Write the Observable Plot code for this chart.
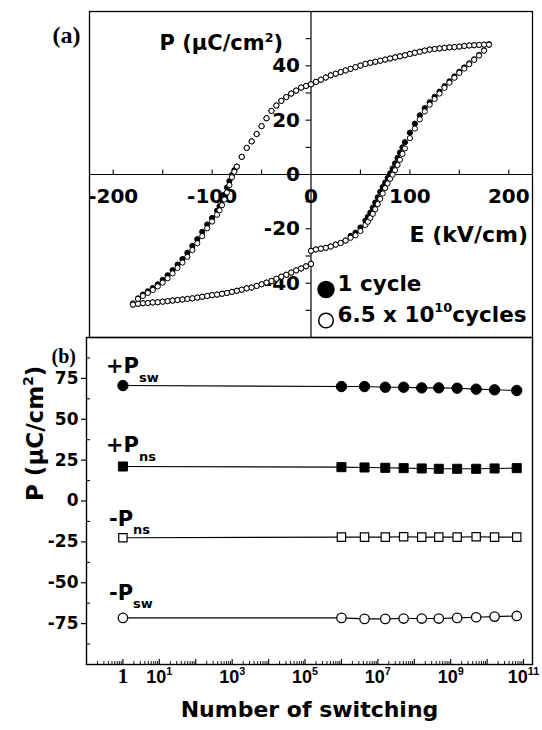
<!DOCTYPE html>
<html><head><meta charset="utf-8">
<script src="https://cdn.jsdelivr.net/npm/d3@7"></script>
<script src="https://cdn.jsdelivr.net/npm/@observablehq/plot@0.6"></script>
<style>
html,body{margin:0;padding:0;background:#fff;}
#wrap{position:relative;width:542px;height:730px;overflow:hidden;background:#fff;}
#wrap svg{position:absolute;left:0;}
</style></head><body><div id="wrap"></div>
<script>
// ---------- Panel (a): hysteresis loops ----------
const E_down = [180,175,170,165,160,155,150,145,140,135,130,125,120,115,110,105,100,95,90,85,80,75,70,65,60,55,50,45,40,35,30,25,20,15,10,5,0,-5,-10,-15,-20,-25,-30,-35,-40,-45,-50,-55,-60,-65,-70,-75,-77.5,-80,-82.5,-85,-87.5,-90,-92.5,-95,-100,-105,-110,-115,-120,-125,-130,-135,-140,-145,-150,-155,-160,-165,-170,-175,-180];
const P_down_fatigued = [47.9,47.8,47.7,47.6,47.5,47.3,47.1,46.9,46.8,46.6,46.4,46.2,46.0,45.6,45.2,44.8,44.4,43.9,43.5,43.1,42.7,42.3,41.9,41.5,41.1,40.7,40.1,39.5,38.9,38.3,37.7,37.1,36.5,35.7,34.9,34.1,33.2,
  32.6,32.0,30.9,29.8,28.5,27.1,25.4,23.4,20.7,17.8,14.9,12.2,9.8,6.5,2.9,
  1.0,-1.0,-3.9,-6.6,-9.2,-11.3,-13.2,-14.8,
  -17.3,-19.8,-22.7,-25.3,-27.8,-30.3,-32.4,-34.4,-36.4,-38.2,-39.8,-41.2,-42.5,-43.6,-44.7,-45.8,-47.5];
const P_down_1cycle = [47.9,47.8,47.7,47.6,47.5,47.3,47.1,46.9,46.8,46.6,46.4,46.2,46.0,45.6,45.2,44.8,44.4,43.9,43.5,43.1,42.7,42.3,41.9,41.5,41.1,40.7,40.1,39.5,38.9,38.3,37.7,37.1,36.5,35.7,34.9,34.1,33.2,
  32.6,32.0,30.9,29.8,28.5,27.1,25.4,23.4,20.7,17.8,14.9,12.2,9.8,6.5,2.9,
  1.6,-0.2,-2.4,-4.8,-7.4,-9.6,-11.6,-13.3,
  -16.0,-18.4,-21.1,-23.8,-26.3,-28.8,-31.1,-33.2,-35.2,-37.1,-38.8,-40.4,-41.8,-43.0,-44.2,-45.6,-47.5];
const E_up1 = [-180,-175,-170,-165,-160,-155,-150,-145,-140,-135,-130,-125,-120,-115,-110,-105,-100,-95,-90,-85,-80,-75,-70,-65,-60,-55,-50,-45,-40,-35,-30,-25,-20,-15,-10,-5,0];
const P_up1_fatigued = [-47.9,-47.6,-47.4,-47.3,-47.1,-47.0,-46.8,-46.6,-46.4,-46.2,-46.0,-45.8,-45.6,-45.3,-45.0,-44.7,-44.4,-44.2,-43.9,-43.6,-43.2,-42.8,-42.4,-41.9,-41.6,-41.0,-40.4,-39.8,-39.2,-38.4,-37.6,-36.9,-36.1,-35.3,-34.6,-33.8,-32.9];
const P_up1_1cycle = [-47.9,-47.6,-47.4,-47.3,-47.1,-47.0,-46.8,-46.6,-46.4,-46.2,-46.0,-45.8,-45.6,-45.3,-45.0,-44.7,-44.4,-44.2,-43.9,-43.6,-43.2,-42.8,-42.4,-41.9,-41.6,-41.0,-40.4,-39.8,-39.2,-38.4,-37.6,-36.9,-36.1,-35.3,-34.6,-33.8,-32.9];
const E_up2 = [0,5,10,15,20,25,30,35,40,45,50,55,57.5,60,62.5,65,67.5,70,72.5,75,77.5,80,82.5,85,87.5,90,92.5,95,100,105,110,115,120,125,130,135,140,145,150,155,160,165,170,175,180];
const P_up2_fatigued = [-28.1,-27.6,-27.3,-27.0,-26.5,-25.8,-25.2,-24.3,-23.3,-22.4,-20.8,-18.6,
  -17.4,-16.0,-14.5,-12.8,-10.9,-9.0,-7.0,-5.0,-3.3,-1.6,-0.1,1.6,3.5,5.4,7.6,9.6,
  13.4,16.9,20.3,23.2,25.7,27.8,29.8,31.9,33.8,35.6,37.4,39.0,40.6,42.2,43.8,45.6,47.8];
const P_up2_1cycle = [-28.1,-27.6,-27.3,-27.0,-26.5,-25.8,-25.2,-24.3,-22.6,-21.4,-19.5,-17.0,
  -15.6,-14.0,-12.2,-10.3,-8.4,-6.4,-4.6,-3.0,-1.3,0.4,2.2,4.1,6.1,8.1,10.0,11.9,
  15.4,18.7,21.8,24.4,26.6,28.6,30.5,32.5,34.3,36.1,37.8,39.4,40.9,42.4,44.0,45.7,47.8];

const eTickLabels = [-200, -100, 0, 100, 200];
const eTicks = [-200, -150, -100, -50, 50, 100, 150, 200];
const pTickLabels = [40, 20, 0, -20, -40];
const pTicks = [50, 40, 30, 20, 10, -10, -20, -30, -40, -50];
const legendLabels = ["1 cycle", "6.5 x 10^{10}cycles"];

// ---------- Panel (b): fatigue ----------
const cycles   = [1, 1e6, 4.3e6, 1.6e7, 5.1e7, 1.6e8, 4.7e8, 1.5e9, 5e9, 1.6e10, 6.5e10];
const PswPlus  = [70.6, 70.0, 70.0, 69.6, 69.6, 69.2, 69.2, 69.0, 68.4, 68.0, 67.6];
const PnsPlus  = [21.1, 20.7, 20.5, 20.3, 20.1, 19.9, 19.7, 19.7, 19.7, 19.9, 20.1];
const PnsMinus = [-22.5, -22.1, -22.1, -22.1, -21.9, -22.1, -22.1, -22.1, -21.9, -22.1, -22.1];
const PswMinus = [-71.5, -71.5, -72.1, -72.1, -71.9, -71.9, -71.9, -71.5, -71.1, -70.7, -70.3];
const seriesNames = ["+P_{sw}", "+P_{ns}", "-P_{ns}", "-P_{sw}"];
const nTickValues = [1, 10, 1e3, 1e5, 1e7, 1e9, 1e11];
const nTickLabels = ["1", "10^{1}", "10^{3}", "10^{5}", "10^{7}", "10^{9}", "10^{11}"];
const pbTickLabels = [75, 50, 25, 0, -25, -50, -75];
const pbMinorTicks = [87.5, 62.5, 37.5, 12.5, -12.5, -37.5, -62.5, -87.5];

const SANS = "DejaVu Sans";
const ARIAL = "Liberation Sans, Arial";
const SERIF = "Liberation Serif, Times New Roman";
const B = "bold";

const toRows = (Es, Ps) => Es.map((E, i) => ({E, P: Ps[i]}));
const loopFatigued = [...toRows(E_down, P_down_fatigued), ...toRows(E_up1, P_up1_fatigued), ...toRows(E_up2, P_up2_fatigued)];
const loop1 = [...toRows(E_down, P_down_1cycle), ...toRows(E_up1, P_up1_1cycle), ...toRows(E_up2, P_up2_1cycle)];

const wrap = document.getElementById("wrap");

const plotA = Plot.plot({
  width: 542, height: 339, marginTop: 11, marginBottom: 2, marginLeft: 89, marginRight: 10,
  x: {domain: [-224, 224], axis: null},
  y: {domain: [-60, 60], axis: null},
  style: {background: "transparent", overflow: "visible"},
  marks: [
    Plot.ruleY([0], {stroke: "black", strokeWidth: 1.2}),
    Plot.ruleX([0], {stroke: "black", strokeWidth: 1.2}),
    Plot.ruleX(eTicks, {x: d => d, y1: 0, y2: 0, insetTop: -4.5, stroke: "black", strokeWidth: 1.1}),
    Plot.ruleY(pTicks, {y: d => d, x1: 0, x2: 0, insetLeft: -5, stroke: "black", strokeWidth: 1.1}),
    Plot.text(eTickLabels, {x: d => d, y: 0, dy: 22.5, text: d => String(d), fontFamily: SANS, fontWeight: B, fontSize: 20, fill: "black"}),
    Plot.text(pTickLabels, {x: 0, y: d => d, dx: -11, textAnchor: "end", text: d => String(d), fontFamily: SANS, fontWeight: B, fontSize: 20, fill: "black"}),
    Plot.dot(loop1, {x: "E", y: "P", r: 2.6, fill: "black", stroke: "black", strokeWidth: 1}),
    Plot.dot(loopFatigued, {x: "E", y: "P", r: 2.6, fill: "white", stroke: "black", strokeWidth: 1}),
    Plot.text(["P (μC/cm^{2})"], {frameAnchor: "top-left", dx: 70, dy: 24, textAnchor: "start", text: d => d, fontFamily: SANS, fontWeight: B, fontSize: 21, fill: "black"}),
    Plot.text(["E (kV/cm)"], {frameAnchor: "top-left", dx: 320, dy: 215, textAnchor: "start", text: d => d, fontFamily: SANS, fontWeight: B, fontSize: 22, fill: "black"}),
    Plot.dot([0], {frameAnchor: "bottom-left", dx: 236.5, dy: -48, r: 8, fill: "black", stroke: "black"}),
    Plot.dot([0], {frameAnchor: "bottom-left", dx: 236.5, dy: -17, r: 7.3, fill: "white", stroke: "black", strokeWidth: 1.5}),
    Plot.text([legendLabels[0]], {frameAnchor: "bottom-left", dx: 248, dy: -47, textAnchor: "start", text: d => d, fontFamily: SANS, fontWeight: B, fontSize: 21.5, fill: "black"}),
    Plot.text([legendLabels[1]], {frameAnchor: "bottom-left", dx: 248, dy: -16, textAnchor: "start", text: d => d, fontFamily: SANS, fontWeight: B, fontSize: 21.5, fill: "black"}),
    Plot.text(["(a)"], {frameAnchor: "top-left", dx: -37, dy: 14.5, textAnchor: "start", text: d => d, fontFamily: SERIF, fontWeight: B, fontSize: 24, fill: "black"}),
    Plot.frame({stroke: "black", strokeWidth: 1.3})
  ]
});
plotA.style.top = "0px";
wrap.appendChild(plotA);

// panel b
const valuesB = [PswPlus, PnsPlus, PnsMinus, PswMinus];
const tableB = seriesNames.flatMap((name, s) => cycles.map((n, i) => ({name, n, P: valuesB[s][i]})));
const rowsOf = s => tableB.filter(d => d.name === seriesNames[s]);
const FW = 542 - 86 - 10, FH = 400 - 7 - 66;
const decades = d3.range(-1, 12).map(k => Math.pow(10, k));
const minors = d3.range(-1, 12).flatMap(k => d3.range(2, 10).map(m => m * Math.pow(10, k))).filter(v => v <= 1.76e11);
const markerStyles = [
  {symbol: "circle", r: 5.2, fill: "black", strokeWidth: 1},
  {symbol: "square", r: 5.1, fill: "black", strokeWidth: 1},
  {symbol: "square", r: 4.7, fill: "white", strokeWidth: 1.2},
  {symbol: "circle", r: 4.7, fill: "white", strokeWidth: 1.3}
];
const labelOffsets = [{dx: -17, dy: -19}, {dx: -17, dy: -21}, {dx: -14, dy: -19}, {dx: -14, dy: -25}];

const plotB = Plot.plot({
  width: 542, height: 400, marginTop: 7, marginBottom: 66, marginLeft: 86, marginRight: 10,
  x: {type: "log", domain: [0.1, 1.76e11], axis: null},
  y: {domain: [-100, 100], axis: null},
  style: {background: "transparent", overflow: "visible"},
  marks: [
    Plot.ruleY(pbTickLabels, {y: d => d, insetLeft: -5, insetRight: FW, stroke: "black", strokeWidth: 1.2}),
    Plot.ruleY(pbMinorTicks, {y: d => d, insetRight: FW - 4, stroke: "black", strokeWidth: 1.1}),
    Plot.ruleX(decades, {x: d => d, insetTop: FH - 5, stroke: "black", strokeWidth: 1.1}),
    Plot.ruleX(minors, {x: d => d, insetTop: FH - 3, stroke: "black", strokeWidth: 0.9}),
    Plot.text(pbTickLabels, {y: d => d, frameAnchor: "left", dx: -8, textAnchor: "end", text: d => String(d), fontFamily: SANS, fontWeight: B, fontSize: 17, fill: "black"}),
    Plot.text([nTickValues[0]], {x: d => d, frameAnchor: "bottom", dy: 18.5, text: () => nTickLabels[0], fontFamily: SERIF, fontWeight: B, fontSize: 21, fill: "black"}),
    Plot.text(nTickValues.slice(1), {x: d => d, frameAnchor: "bottom", dy: 18.5, text: (d, i) => nTickLabels[i + 1], fontFamily: ARIAL, fontWeight: B, fontSize: 18, fill: "black"}),
    Plot.text(["Number of switching"], {frameAnchor: "bottom", dy: 52, text: d => d, fontFamily: SANS, fontWeight: B, fontSize: 22, fill: "black"}),
    Plot.text(["P (μC/cm^{2})"], {frameAnchor: "left", dx: -51, rotate: -90, text: d => d, fontFamily: SANS, fontWeight: B, fontSize: 23, fill: "black"}),
    Plot.text(["(b)"], {frameAnchor: "top-left", dx: -35, dy: 11.5, textAnchor: "start", text: d => d, fontFamily: SERIF, fontWeight: B, fontSize: 20, fill: "black"}),
    Plot.line(tableB, {x: "n", y: "P", z: "name", stroke: "black", strokeWidth: 1.1}),
    ...markerStyles.map((m, s) => Plot.dot(rowsOf(s), {x: "n", y: "P", symbol: m.symbol, r: m.r, fill: m.fill, stroke: "black", strokeWidth: m.strokeWidth})),
    ...seriesNames.map((name, s) => Plot.text(rowsOf(s).slice(0, 1), {x: "n", y: "P", text: () => name, dx: labelOffsets[s].dx, dy: labelOffsets[s].dy, textAnchor: "start", fontFamily: SANS, fontWeight: B, fontSize: 21, fill: "black"})),
    Plot.frame({stroke: "black", strokeWidth: 1.4})
  ]
});
plotB.style.top = "330px";
wrap.appendChild(plotB);

// rich text: ^{..} superscript, _{..} subscript
const svgNS = "http://www.w3.org/2000/svg";
function richify(root) {
  root.querySelectorAll("text").forEach(t => {
    const s = t.textContent;
    if (!/[\^_]\{/.test(s)) return;
    const fs = parseFloat(getComputedStyle(t).fontSize) || 16;
    while (t.firstChild) t.removeChild(t.firstChild);
    const re = /([\^_])\{([^}]*)\}|([^\^_]+)/g;
    let m, cur = 0;
    while ((m = re.exec(s)) !== null) {
      const ts = document.createElementNS(svgNS, "tspan");
      let off = 0;
      if (m[1] === "^") { off = -0.42 * fs; ts.setAttribute("font-size", (0.6 * fs).toFixed(1)); }
      else if (m[1] === "_") { off = 0.4 * fs; ts.setAttribute("font-size", (0.62 * fs).toFixed(1)); }
      ts.setAttribute("dy", (off - cur).toFixed(2));
      cur = off;
      ts.textContent = m[1] ? m[2] : m[3];
      t.appendChild(ts);
    }
  });
}
richify(wrap);
</script></body></html>
